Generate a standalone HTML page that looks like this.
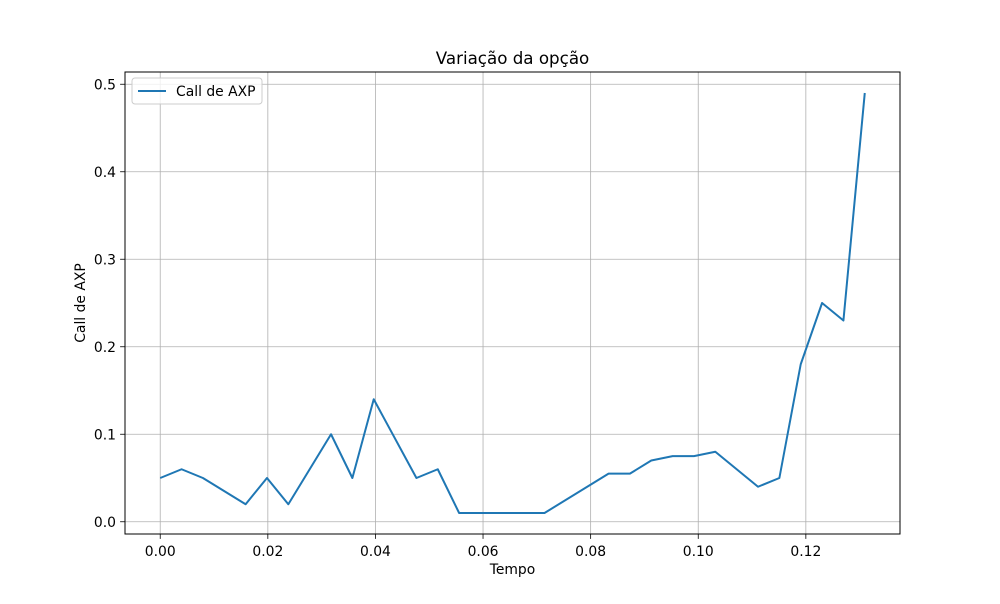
<!DOCTYPE html>
<html><head><meta charset="utf-8"><style>
body{margin:0;background:#fff;font-family:"DejaVu Sans","Liberation Sans",sans-serif;}
svg text{font-family:"DejaVu Sans","Liberation Sans",sans-serif;}
</style></head><body>
<svg id="c" width="1000" height="600" xmlns="http://www.w3.org/2000/svg"></svg>
<script>
const days = [0,1,2,4,5,6,8,9,10,12,13,14,18,21,22,23,24,25,26,28,29,30,31,32,33];
const callValues = [0.05,0.06,0.05,0.02,0.05,0.02,0.10,0.05,0.14,0.05,0.06,0.01,0.01,0.055,0.055,0.07,0.075,0.075,0.08,0.04,0.05,0.18,0.25,0.23,0.49];
const xTicks = [0,0.02,0.04,0.06,0.08,0.10,0.12];
const xTickLabels = ["0.00","0.02","0.04","0.06","0.08","0.10","0.12"];
const yTicks = [0,0.1,0.2,0.3,0.4,0.5];
const yTickLabels = ["0.0","0.1","0.2","0.3","0.4","0.5"];

const NS="http://www.w3.org/2000/svg", svg=document.getElementById('c');
const L=125,R=900,T=72,B=534;
const xs=days.map(d=>d/252);
const xmin=-0.0065476,xmax=0.1375;
const ymin=-0.014,ymax=0.514;
const X=v=>L+(v-xmin)/(xmax-xmin)*(R-L);
const Y=v=>B-(v-ymin)/(ymax-ymin)*(B-T);
function mk(t,a,txt){const e=document.createElementNS(NS,t);for(const k in a)e.setAttribute(k,a[k]);if(txt!=null)e.textContent=txt;svg.appendChild(e);return e;}

xTicks.forEach((v,i)=>{
  const g=mk('line',{x1:X(v),x2:X(v),y1:T,y2:B,stroke:'#b0b0b0','stroke-width':0.8});
  
  
  mk('line',{x1:X(v),x2:X(v),y1:B,y2:B+4.9,stroke:'#000','stroke-width':0.8});
  const t=mk('text',{x:X(v),y:B+22,'text-anchor':'middle','font-size':13.9},xTickLabels[i]);
  
  
});
yTicks.forEach((v,i)=>{
  const g=mk('line',{x1:L,x2:R,y1:Y(v),y2:Y(v),stroke:'#b0b0b0','stroke-width':0.8});
  
  
  mk('line',{x1:L-4.9,x2:L,y1:Y(v),y2:Y(v),stroke:'#000','stroke-width':0.8});
  const t=mk('text',{x:L-9,y:Y(v)+5,'text-anchor':'end','font-size':13.9},yTickLabels[i]);
  
  
});
const line=mk('polyline',{points:xs.map((x,i)=>X(x)+','+Y(callValues[i])).join(' '),fill:'none',stroke:'#1f77b4','stroke-width':2,'stroke-linejoin':'round'});


const frame=mk('rect',{x:L,y:T,width:R-L,height:B-T,fill:'none',stroke:'#000','stroke-width':1});


const title=mk('text',{x:(L+R)/2,y:64,'text-anchor':'middle','font-size':16.7},'Variação da opção');


const xl=mk('text',{x:(L+R)/2,y:574,'text-anchor':'middle','font-size':13.9},'Tempo');


const yl=mk('text',{x:85,y:(T+B)/2,'text-anchor':'middle','font-size':13.9,transform:'rotate(-90 85 '+((T+B)/2)+')'},'Call de AXP');


const lg=mk('rect',{x:132,y:78,width:130,height:26,rx:3,fill:'#fff','fill-opacity':0.8,stroke:'#ccc','stroke-width':1});


mk('line',{x1:138,x2:166,y1:91,y2:91,stroke:'#1f77b4','stroke-width':2});
const lt=mk('text',{x:176,y:96,'font-size':13.9},'Call de AXP');


</script>
</body></html>
